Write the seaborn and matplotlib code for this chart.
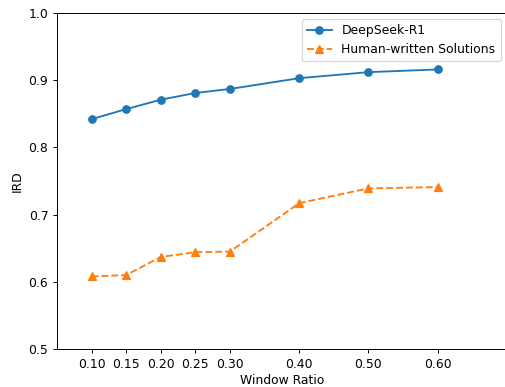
import matplotlib
matplotlib.use("Agg")
import matplotlib.pyplot as plt
import seaborn as sns
import pandas as pd

window_ratio = [0.10, 0.15, 0.20, 0.25, 0.30, 0.40, 0.50, 0.60]
deepseek_r1 = [0.842, 0.857, 0.871, 0.881, 0.887, 0.903, 0.912, 0.916]
human_written = [0.608, 0.610, 0.637, 0.644, 0.645, 0.717, 0.739, 0.741]
tick_labels = ["0.10", "0.15", "0.20", "0.25", "0.30", "0.40", "0.50", "0.60"]

plt.rcdefaults()
dpi = 89.5
W, H = 505, 387
fig = plt.figure(figsize=(W / dpi, H / dpi), dpi=dpi)
ax = fig.add_axes([57 / W, 1 - 349 / H, 449.8 / W, 336 / H])

df1 = pd.DataFrame({"x": window_ratio, "y": deepseek_r1})
df2 = pd.DataFrame({"x": window_ratio, "y": human_written})
sns.lineplot(data=df1, x="x", y="y", ax=ax, color="#1f77b4", marker="o",
             markersize=6, markeredgecolor="#1f77b4", markeredgewidth=1,
             linestyle="-", label="DeepSeek-R1")
sns.lineplot(data=df2, x="x", y="y", ax=ax, color="#ff7f0e", marker="^",
             markersize=6, markeredgecolor="#ff7f0e", markeredgewidth=1,
             linestyle="--", label="Human-written Solutions")

ax.set_xlim(0.05, 0.70)
ax.set_ylim(0.5, 1.0)
ax.set_xticks(window_ratio)
ax.set_xticklabels(tick_labels)
ax.set_yticks([0.5, 0.6, 0.7, 0.8, 0.9, 1.0])
ax.set_yticklabels(["0.5", "0.6", "0.7", "0.8", "0.9", "1.0"])
ax.set_xlabel("Window Ratio", labelpad=2.5)
ax.set_ylabel("IRD")
ax.legend(loc="upper right")

fig.savefig("out.png", dpi=dpi)
